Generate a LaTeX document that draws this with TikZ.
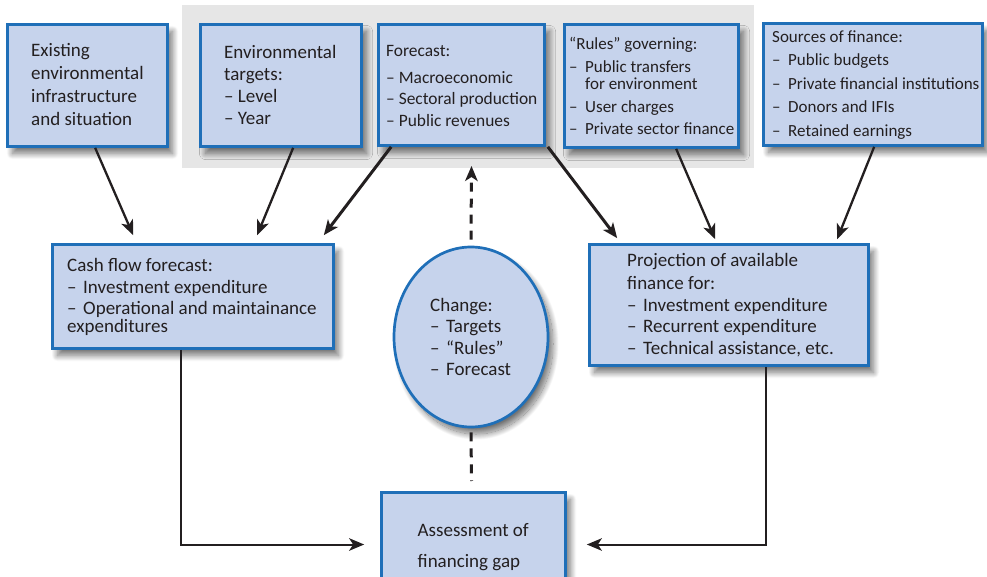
\documentclass[tikz,border=0pt]{standalone}
\usepackage{fontspec}
\setmainfont{Carlito}
\usetikzlibrary{arrows.meta,shapes.geometric,shadows.blur,calc}

\definecolor{boxfill}{HTML}{C6D3EC}
\definecolor{boxline}{HTML}{1F6FB8}
\definecolor{inkc}{HTML}{231F20}
\definecolor{panel}{HTML}{E6E6E6}

% dash with a fixed indent for list items
\newcommand{\itm}{\makebox[16pt][l]{–}}

\tikzset{
  x=1pt, y=-1pt,
  boxnode/.style={draw=boxline, line width=2.7pt, fill=boxfill, inner sep=0pt,
    blur shadow={shadow xshift=5pt, shadow yshift=-7pt, shadow blur radius=6pt,
      shadow blur steps=24, shadow opacity=55}},
  txt/.style={anchor=west, align=left, inner sep=0pt, text=inkc},
  big/.style={font=\fontsize{19}{22}\selectfont},
  small/.style={font=\fontsize{17}{22.5}\selectfont},
  arr/.style={draw=inkc, line width=2.3pt, -{Stealth[length=15pt,width=12.5pt,inset=4pt]}},
  thickarr/.style={arr, line width=3pt},
  link/.style={draw=inkc, line width=2pt, -{Stealth[length=15pt,width=12.5pt,inset=4pt]}},
  dasharr/.style={draw=inkc, line width=3pt, dash pattern=on 9pt off 7pt},
}

\begin{document}
\begin{tikzpicture}
\useasboundingbox (0,0) rectangle (987,577);
\clip (0,0) rectangle (987,577);

% grey panel behind the middle row of inputs
\fill[panel] (182,5) rectangle (754,168);

% top row of input boxes
\node[boxnode, minimum width=160, minimum height=122] (ex) at (87.5,85.5) {};
\node[boxnode, minimum width=161, minimum height=122] (tg) at (281,85.5) {};
\node[boxnode, minimum width=166, minimum height=121] (fc) at (461.5,85) {};
\node[boxnode, minimum width=174, minimum height=123] (ru) at (651.5,86) {};
\node[boxnode, minimum width=219, minimum height=122] (so) at (873,84.5) {};

% middle row
\node[boxnode, minimum width=281, minimum height=104] (cash) at (193,296.5) {};
\node[boxnode, minimum width=279, minimum height=121] (proj) at (729,305) {};
\node[boxnode, ellipse, minimum width=154, minimum height=180] (ell) at (471,337) {};

% bottom box
\node[boxnode, minimum width=184, minimum height=104] (as) at (473.5,544.5) {};

% texts
\node[txt, font=\fontsize{19}{23}\selectfont] (exT) at (31,84.5)
  {Existing\\environmental\\infrastructure\\and situation};
\node[txt, big] (tgT) at (224,85)
  {Environmental\\targets:\\– Level\\– Year};
\node[txt, font=\fontsize{17.4}{21.5}\selectfont] (fcT) at (386,86)
  {Forecast:\\[5pt]– Macroeconomic\\– Sectoral production\\– Public revenues};
\node[txt, small] (ruT) at (569,86)
  {“Rules” governing:\\\itm Public transfers\\[-5pt]\hspace*{16pt}for environment\\\itm User charges\\\itm Private sector finance};
\node[txt, font=\fontsize{17}{23.5}\selectfont] (soT) at (772,85)
  {Sources of finance:\\\itm Public budgets\\\itm Private financial institutions\\\itm Donors and IFIs\\\itm Retained earnings};
\node[txt, font=\fontsize{19}{21.5}\selectfont] (cashT) at (67,297)
  {Cash flow forecast:\\\itm Investment expenditure\\\itm Operational and maintainance\\[-4pt]\hspace*{0pt}expenditures};
\node[txt, font=\fontsize{19}{21.7}\selectfont] (projT) at (627,305)
  {Projection of available\\[1.5pt]finance for:\\\itm Investment expenditure\\\itm Recurrent expenditure\\\itm Technical assistance, etc.};
\node[txt, font=\fontsize{19}{21.5}\selectfont] (ellT) at (430,337)
  {Change:\\\itm Targets\\\itm “Rules”\\\itm Forecast};
\node[txt, font=\fontsize{19}{31}\selectfont] (asT) at (417.5,547)
  {Assessment of\\financing gap};

% arrows into the cash flow forecast
\draw[arr] ($(ex.south west)+(89,0)$) -- ($(cash.north west)+(82,-8)$);
\draw[arr] ($(tg.south west)+(94,0)$) -- ($(cash.north west)+(206,-8)$);
\draw[thickarr] ($(fc.south west)+(14,0)$) -- ($(cash.north east)+(-11,-8)$);

% arrows into the projection of available finance
\draw[thickarr] ($(fc.south east)+(2,0)$) -- ($(proj.north west)+(29,-5)$);
\draw[arr] ($(ru.south west)+(113,0)$) -- ($(proj.north west)+(127,-4)$);
\draw[arr] ($(so.south west)+(112,0)$) -- ($(proj.north west)+(249,-4)$);

% feedback from the change ellipse
\coordinate (fbtop) at (471.5,166);
\coordinate (fbbot) at (471.5,481);
\draw[dasharr, -{Stealth[length=15pt,width=12.5pt,inset=4pt]}] ($(ell.north)+(0,-6)$) -- (fbtop);
\draw[dasharr] ($(ell.south)+(0,4)$) -- (fbbot);

% both forecasts feed the gap assessment
\draw[link, shorten >=16pt] ($(cash.south west)+(129.5,0)$) |- (as.west);
\draw[link, shorten >=20pt] ($(proj.south west)+(178,0)$) |- (as.east);
\end{tikzpicture}
\end{document}
